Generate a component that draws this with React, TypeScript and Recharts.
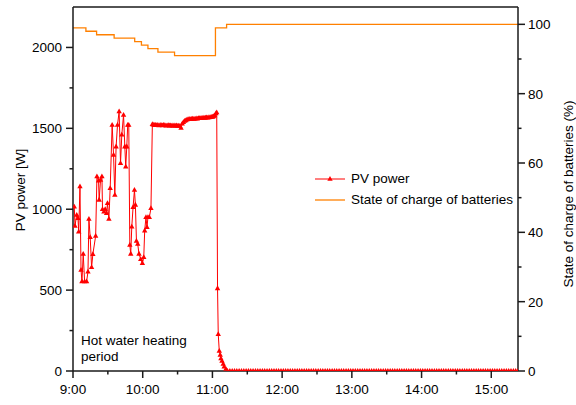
import React from "react";
import {
  ComposedChart,
  Line,
  XAxis,
  YAxis,
  ReferenceLine,
} from "recharts";

// PV power, minutes after 9:00
const pvMinutes = [
  1.1, 1.7, 3.2, 4.3, 4.9, 6, 6.9, 7.7, 8.8, 10, 11.7, 12.9, 13.7, 14.8, 16,
  17.1, 19.5, 20.6, 22, 22.5, 23.7, 24.9, 25.4, 26.6, 27.7, 28.9, 29.7, 30.9,
  32, 33.7, 34.9, 36, 37.1, 38.3, 39.7, 40.9, 42, 43.5, 44.6, 45.4, 46.3,
  47.1, 48, 48.9, 49.7, 50.6, 51.7, 52.9, 53.7, 54.6, 55.7, 56.8, 58.3, 59.7,
  60.9, 61.7, 62.8, 63.7, 64.5, 65.7, 67.1, 68.3, 69, 70, 71, 72, 73, 74, 75,
  76, 77, 78, 79, 80, 81, 82, 83, 84, 85, 86, 87, 88, 89, 90, 91, 92, 93, 94,
  95, 96, 97, 98, 99, 100, 101, 102, 103, 104, 105, 106, 107, 108, 109, 110,
  111, 112, 113, 114, 115, 116, 117, 118, 119, 120, 121, 122, 123, 123.7,
  124.4, 125, 125.9, 126.7, 127.3, 128.2, 129.3, 130.1, 131.6, 133,
  135, 137, 139, 141, 143, 145, 147, 149, 151, 153, 155, 157, 159, 161, 163,
  165, 167, 169, 171, 173, 175, 177, 179, 181, 183, 185, 187, 189, 191, 193,
  195, 197, 199, 201, 203, 205, 207, 209, 211, 213, 215, 217, 219, 221, 223,
  225, 227, 229, 231, 233, 235, 237, 239, 241, 243, 245, 247, 249, 251, 253,
  255, 257, 259, 261, 263, 265, 267, 269, 271, 273, 275, 277, 279, 281, 283,
  285, 287, 289, 291, 293, 295, 297, 299, 301, 303, 305, 307, 309, 311, 313,
  315, 317, 319, 321, 323, 325, 327, 329, 331, 333, 335, 337, 339, 341, 343,
  345, 347, 349, 351, 353, 355, 357, 359, 361, 363, 365, 367, 369, 371, 373,
  375, 377, 379, 381, 383,
];
const pvPower = [
  1016, 897, 965, 944, 861, 1140, 625, 553, 723, 553, 553, 614, 940, 827, 641,
  722, 835, 1202, 1177, 1058, 1181, 1202, 1000, 985, 1000, 975, 1037, 940,
  1130, 1521, 1336, 1088, 1387, 1521, 1604, 1284, 1460, 1583, 1387, 1263, 1387,
  1521, 1521, 779, 724, 892, 1012, 1119, 1027, 804, 785, 724, 691, 666,
  703, 868, 950, 889, 950, 950, 1006, 1526, 1522, 1520, 1521, 1519, 1520, 1518, 1520,
  1519, 1518, 1520, 1519, 1517, 1518, 1519, 1517, 1518, 1516, 1517, 1518, 1516, 1517, 1515, 1516, 1514, 1502, 1528,
  1538, 1545, 1549, 1553, 1556, 1557, 1556, 1558, 1559, 1558, 1560, 1561, 1560, 1562, 1563, 1562,
  1564, 1565, 1564, 1566, 1567, 1566, 1568, 1569, 1570, 1571, 1574, 1580, 1592, 1598,
  511, 227, 124, 99, 78, 62, 43, 27, 12, 0,
  0, 0, 0, 0, 0, 0, 0, 0, 0, 0, 0, 0, 0, 0, 0,
  0, 0, 0, 0, 0, 0, 0, 0, 0, 0, 0, 0, 0, 0, 0,
  0, 0, 0, 0, 0, 0, 0, 0, 0, 0, 0, 0, 0, 0, 0,
  0, 0, 0, 0, 0, 0, 0, 0, 0, 0, 0, 0, 0, 0, 0,
  0, 0, 0, 0, 0, 0, 0, 0, 0, 0, 0, 0, 0, 0, 0,
  0, 0, 0, 0, 0, 0, 0, 0, 0, 0, 0, 0, 0, 0, 0,
  0, 0, 0, 0, 0, 0, 0, 0, 0, 0, 0, 0, 0, 0, 0,
  0, 0, 0, 0, 0, 0, 0, 0, 0, 0, 0, 0, 0, 0, 0,
  0, 0, 0, 0, 0,
];

// State of charge, minutes after 9:00 (step changes)
const socMinutes = [0, 11.1, 20.3, 35.4, 53.1, 58.9, 64.5, 73.1, 87.4, 122.6, 132.2, 383];
const socLevel = [99, 98, 97, 96, 95, 94, 93, 92, 91, 99, 100, 100];

const hourTicks = [0, 30, 60, 90, 120, 150, 180, 210, 240, 270, 300, 330, 360];
const hourLabels = ["9:00", "10:00", "11:00", "12:00", "13:00", "14:00", "15:00"];
const powerTicks = [0, 250, 500, 750, 1000, 1250, 1500, 1750, 2000];
const socTicks = [0, 10, 20, 30, 40, 50, 60, 70, 80, 90, 100];

const pvData = pvMinutes.map((t, i) => ({ t, pv: pvPower[i] }));
const socData = socMinutes.map((t, i) => ({ t, soc: socLevel[i] }));

const FONT = '"Liberation Sans", Arial, sans-serif';
const AXIS = "#1a1a1a";
const RED = "#FF0000";
const ORANGE = "#FF8000";

const XTick = ({ x, y, payload }: any) => {
  const major = payload.value % 60 === 0;
  return (
    <g>
      <line x1={x} x2={x} y1={y} y2={y + (major ? 7 : 3.5)} stroke={AXIS} strokeWidth={1.5} />
      {major && (
        <text x={x} y={y + 23} textAnchor="middle" fontSize={13.5} fontFamily={FONT} fill="#000">
          {hourLabels[payload.value / 60]}
        </text>
      )}
    </g>
  );
};

const LeftTick = ({ x, y, payload }: any) => {
  const major = payload.value % 500 === 0;
  return (
    <g>
      <line x1={x} x2={x - (major ? 7 : 3.5)} y1={y} y2={y} stroke={AXIS} strokeWidth={1.5} />
      {major && (
        <text x={x - 11} y={y + 5} textAnchor="end" fontSize={13.5} fontFamily={FONT} fill="#000">
          {payload.value}
        </text>
      )}
    </g>
  );
};

const RightTick = ({ x, y, payload }: any) => {
  const major = payload.value % 20 === 0;
  return (
    <g>
      <line x1={x} x2={x + (major ? 7 : 3.5)} y1={y} y2={y} stroke={AXIS} strokeWidth={1.5} />
      {major && (
        <text x={x + 10} y={y + 5} textAnchor="start" fontSize={13.5} fontFamily={FONT} fill="#000">
          {payload.value}
        </text>
      )}
    </g>
  );
};

const TriangleDot = ({ cx, cy }: any) => (
  <path
    d={`M${cx},${cy - 3} L${cx + 2.7},${cy + 1.8} L${cx - 2.7},${cy + 1.8} Z`}
    fill={RED}
  />
);

const LeftTitle = () => (
  <text
    x={20}
    y={190}
    transform="rotate(-90 20 190)"
    textAnchor="middle"
    dominantBaseline="central"
    fontSize={13.5}
    fontFamily={FONT}
    fill="#000"
  >
    PV power [W]
  </text>
);

const RightTitle = () => (
  <text
    x={568}
    y={194}
    transform="rotate(-90 568 194)"
    textAnchor="middle"
    dominantBaseline="central"
    fontSize={13.5}
    fontFamily={FONT}
    fill="#000"
  >
    State of charge of batteries (%)
  </text>
);

export default function App() {
  return (
    <div style={{ position: "absolute", left: 0, top: 0, width: 576, height: 405, background: "#fff", fontFamily: FONT }}>
      <ComposedChart width={576} height={405} margin={{ top: 7, right: 0, bottom: 0, left: 0 }}>
        <XAxis
          dataKey="t"
          type="number"
          domain={[0, 383]}
          ticks={hourTicks}
          interval={0}
          allowDataOverflow
          height={34}
          tick={<XTick />}
          tickLine={false}
          tickSize={0}
          tickMargin={0}
          axisLine={{ stroke: AXIS, strokeWidth: 1.5 }}
        />
        <YAxis
          yAxisId="left"
          type="number"
          domain={[0, 2250]}
          ticks={powerTicks}
          interval={0}
          allowDataOverflow
          width={73}
          tick={<LeftTick />}
          tickLine={false}
          tickSize={0}
          tickMargin={0}
          axisLine={{ stroke: AXIS, strokeWidth: 1.5 }}
          label={<LeftTitle />}
        />
        <YAxis
          yAxisId="right"
          orientation="right"
          type="number"
          domain={[0, 105]}
          ticks={socTicks}
          interval={0}
          allowDataOverflow
          width={58}
          tick={<RightTick />}
          tickLine={false}
          tickSize={0}
          tickMargin={0}
          axisLine={{ stroke: AXIS, strokeWidth: 1.5 }}
          label={<RightTitle />}
        />
        <ReferenceLine yAxisId="left" y={2250} stroke={AXIS} strokeWidth={1.5} />
        <Line
          yAxisId="right"
          data={socData}
          dataKey="soc"
          type="stepAfter"
          stroke={ORANGE}
          strokeWidth={1.3}
          dot={false}
          activeDot={false}
          isAnimationActive={false}
        />
        <Line
          yAxisId="left"
          data={pvData}
          dataKey="pv"
          type="linear"
          stroke={RED}
          strokeWidth={1}
          dot={<TriangleDot />}
          activeDot={false}
          isAnimationActive={false}
        />
      </ComposedChart>

      {/* legend */}
      <div style={{ position: "absolute", left: 313, top: 168, fontSize: 13.5, lineHeight: "21px", color: "#000" }}>
        <div style={{ display: "flex", alignItems: "center", height: 21 }}>
          <svg width={34} height={10} style={{ marginRight: 4 }}>
            <line x1={2} x2={32} y1={5} y2={5} stroke={RED} strokeWidth={1} />
            <path d="M17,2 L19.7,6.8 L14.3,6.8 Z" fill={RED} />
          </svg>
          PV power
        </div>
        <div style={{ display: "flex", alignItems: "center", height: 21 }}>
          <svg width={34} height={10} style={{ marginRight: 4 }}>
            <line x1={2} x2={32} y1={5} y2={5} stroke={ORANGE} strokeWidth={1.3} />
          </svg>
          State of charge of batteries
        </div>
      </div>

      {/* annotation */}
      <div style={{ position: "absolute", left: 81, top: 333, fontSize: 13.5, lineHeight: "16px", color: "#000" }}>
        Hot water heating
        <br />
        period
      </div>
    </div>
  );
}
